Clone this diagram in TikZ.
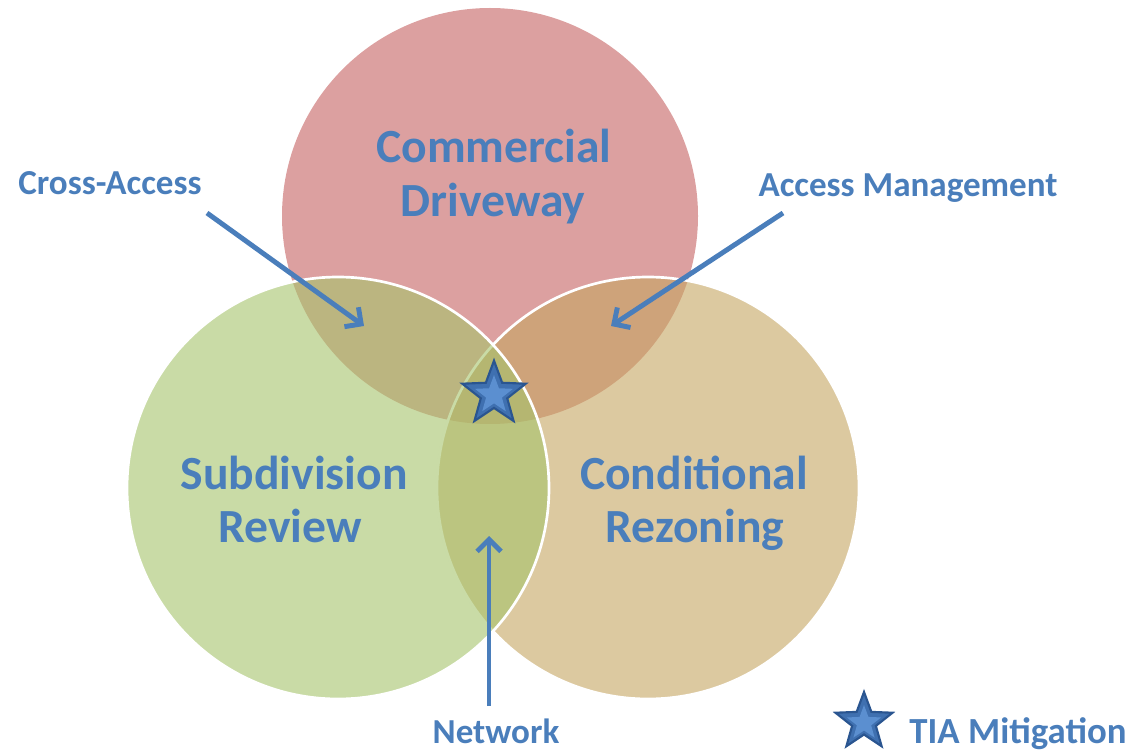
\documentclass[tikz,border=0pt]{standalone}
\usepackage{fontspec}
\setmainfont{Carlito}
\usetikzlibrary{arrows.meta,shapes.geometric}

\definecolor{txtblue}{HTML}{4A7EBB}
\definecolor{redset}{RGB}{197,97,97}
\definecolor{greenset}{RGB}{165,195,107}
\definecolor{tanset}{RGB}{197,165,97}
\definecolor{starfill}{HTML}{3F70B0}
\definecolor{starlight}{HTML}{5B8FD0}
\definecolor{staredge}{HTML}{2A5590}

\tikzset{
  setdisk/.style={circle, inner sep=0pt, fill opacity=0.6, draw=white, line width=2pt},
  biglabel/.style={anchor=base, text=txtblue, font=\bfseries\fontsize{35.7}{40}\selectfont, inner sep=0pt},
  smalllabel/.style={anchor=base, text=txtblue, font=\bfseries\fontsize{26.3}{30}\selectfont, inner sep=0pt},
  legendlabel/.style={anchor=base, text=txtblue, font=\bfseries\fontsize{27.6}{31}\selectfont, inner sep=0pt},
  pointer/.style={draw=txtblue, line width=3.7pt, -{Straight Barb[length=9pt,width=18pt]}},
  bigstar/.style={star, star points=5, star point ratio=2.4, inner sep=0pt, fill=starfill, draw=staredge, line width=1.6pt},
  glowstar/.style={star, star points=5, star point ratio=2.4, inner sep=0pt, fill=starlight},
}

\begin{document}
\begin{tikzpicture}[x=0.75pt, y=-0.75pt]
  \useasboundingbox (0,0) rectangle (1131,752);

  % the three sets, drawn top, right, left
  \node[setdisk, draw=none, fill=redset, minimum size=312pt] (drive) at (490,216) {};
  \node[setdisk, fill=tanset, minimum size=316.5pt] (rezone) at (648,488) {};
  \node[setdisk, fill=greenset, minimum size=316.5pt] (subdiv) at (338,488) {};

  % set names
  \node[biglabel] (cd1) at (494,163) {Commercial};
  \node[biglabel] (cd2) at (493,217) {Driveway};
  \node[biglabel] (sr1) at (294,489) {Subdivision};
  \node[biglabel] (sr2) at (290,542) {Review};
  \node[biglabel] (cr1) at (694,489) {Conditional};
  \node[biglabel] (cr2) at (695,542) {Rezoning};

  % overlap labels
  \node[smalllabel] (cross) at (110,195) {Cross-Access};
  \node[smalllabel] (mgmt) at (908,197) {Access Management};
  \node[smalllabel] (net) at (496,743) {Network};

  % pointers into the overlaps
  \coordinate (crossTail) at (207,213);
  \coordinate (crossTip) at (364,326);
  \coordinate (mgmtTail) at (783,213);
  \coordinate (mgmtTip) at (611,326);
  \coordinate (netTail) at (489,706);
  \coordinate (netTip) at (489,536);
  \draw[pointer] (crossTail) -- (crossTip);
  \draw[pointer] (mgmtTail) -- (mgmtTip);
  \draw[pointer] (netTail) -- (netTip);

  % TIA star at the common region
  \node[bigstar, minimum size=50pt] (tia) at (494,394) {};
  \node[glowstar, minimum size=30pt] (tiaglow) at (494,395) {};

  % legend
  \node[bigstar, minimum size=45pt] (keystar) at (864,722) {};
  \node[glowstar, minimum size=27pt] (keyglow) at (864,723) {};
  \node[legendlabel] (key) at (1018,743) {TIA Mitigation};
\end{tikzpicture}
\end{document}
